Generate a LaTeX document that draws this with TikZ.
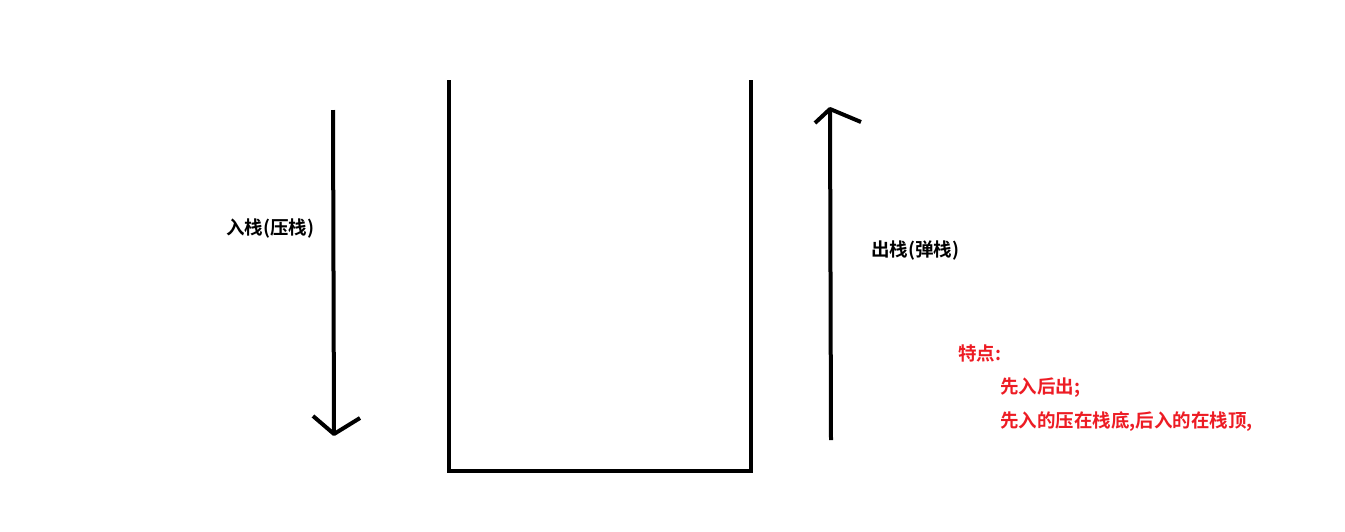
\documentclass[tikz,border=0pt]{standalone}
\usepackage{fontspec}
\newfontfamily\cjk{Noto Sans CJK SC}[BoldFont={Noto Sans CJK SC Bold}]
\definecolor{paintred}{HTML}{ED1C24}
\begin{document}
\begin{tikzpicture}[x=1pt,y=-1pt,
  thickline/.style={line width=4pt,line cap=butt,line join=miter},
  lbl/.style={font=\cjk\bfseries\fontsize{18.5}{22}\selectfont,inner sep=0pt,anchor=west},
  redlbl/.style={lbl,text=paintred}]
\useasboundingbox (0,0) rectangle (1345,531);
% stack container
\coordinate (tl) at (449,80);
\coordinate (bl) at (449,471);
\coordinate (br) at (751,471);
\coordinate (tr) at (751,80);
\draw[thickline] (tl) -- (bl) -- (br) -- (tr);
% push arrow
\coordinate (pa) at (333,110);
\coordinate (pb) at (334,434);
\coordinate (pl) at (313,416);
\coordinate (pr) at (360,418);
\draw[thickline] (pa) -- (pb);
\draw[thickline,line join=round] (pl) -- (pb) -- (pr);
% pop arrow
\coordinate (qa) at (831,440);
\coordinate (qb) at (830,109);
\coordinate (ql) at (815,123);
\coordinate (qr) at (861,122);
\draw[thickline] (qa) -- (qb);
\draw[thickline,line join=round] (ql) -- (qb) -- (qr);
% labels
\node[lbl] (push) at (226,228) {入栈(压栈)};
\node[lbl] (pop) at (871,250) {出栈(弹栈)};
\node[redlbl] (feat) at (958,353) {特点:};
\node[redlbl] (f1) at (1000,388) {先入后出;};
\node[redlbl] (f2) at (1000,422) {先入的压在栈底,后入的在栈顶,};
\end{tikzpicture}
\end{document}
